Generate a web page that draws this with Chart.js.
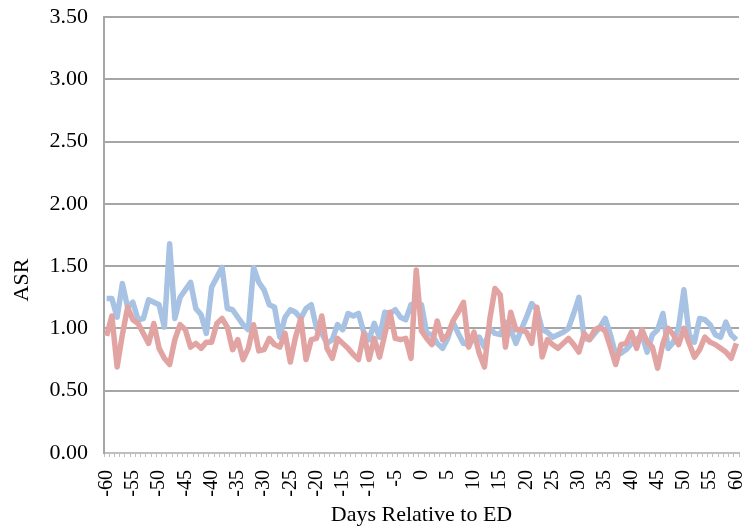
<!DOCTYPE html>
<html>
<head>
<meta charset="utf-8">
<script src="https://cdn.jsdelivr.net/npm/chart.js@4"></script>
<style>
  html, body { margin: 0; padding: 0; background: #fff; }
  #wrap { width: 746px; height: 528px; }
</style>
</head>
<body>
<div id="wrap"><canvas id="asrChart"></canvas></div>
<script>
// days -60 .. 60
const days = [];
for (let d = -60; d <= 60; d++) days.push(d);

// ASR, blue series
const asrBlue = [
  1.24, 1.24, 1.09, 1.36, 1.17, 1.21, 1.07, 1.08, 1.23, 1.21,
  1.19, 1.01, 1.68, 1.08, 1.25, 1.31, 1.37, 1.16, 1.11, 0.96,
  1.33, 1.41, 1.49, 1.16, 1.15, 1.09, 1.03, 0.99, 1.49, 1.37,
  1.31, 1.19, 1.17, 0.93, 1.09, 1.15, 1.13, 1.08, 1.16, 1.19,
  1.00, 0.96, 0.88, 0.91, 1.03, 0.99, 1.12, 1.10, 1.12, 0.97,
  0.91, 1.04, 0.93, 1.13, 1.12, 1.15, 1.09, 1.07, 1.19, 1.20,
  1.19, 0.96, 0.95, 0.88, 0.84, 0.92, 1.05, 0.96, 0.88, 0.87,
  0.92, 0.93, 0.85, 1.00, 0.96, 0.95, 1.05, 0.99, 0.88, 0.99,
  1.09, 1.20, 1.15, 0.99, 0.97, 0.93, 0.95, 0.97, 1.00, 1.12,
  1.25, 0.92, 0.91, 0.96, 1.01, 1.08, 0.95, 0.79, 0.80, 0.83,
  0.88, 0.91, 0.95, 0.81, 0.95, 0.99, 1.12, 0.84, 0.89, 1.01,
  1.31, 0.95, 0.89, 1.08, 1.07, 1.03, 0.95, 0.93, 1.05, 0.95,
  0.91
];

// ASR, red series
const asrRed = [
  0.94, 1.10, 0.69, 0.95, 1.17, 1.07, 1.04, 0.96, 0.88, 1.04,
  0.84, 0.76, 0.71, 0.91, 1.03, 0.99, 0.85, 0.88, 0.84, 0.89,
  0.89, 1.04, 1.08, 1.01, 0.83, 0.91, 0.75, 0.84, 1.03, 0.82,
  0.83, 0.92, 0.87, 0.85, 0.96, 0.73, 0.93, 1.08, 0.75, 0.91,
  0.92, 1.10, 0.84, 0.76, 0.92, 0.88, 0.84, 0.79, 0.75, 0.96,
  0.75, 0.92, 0.77, 0.95, 1.13, 0.92, 0.91, 0.92, 0.76, 1.47,
  0.98, 0.92, 0.87, 1.06, 0.91, 0.95, 1.06, 1.13, 1.21, 0.85,
  0.97, 0.80, 0.69, 1.07, 1.32, 1.27, 0.85, 1.13, 0.99, 0.99,
  0.97, 0.88, 1.17, 0.77, 0.91, 0.87, 0.84, 0.88, 0.92, 0.87,
  0.81, 0.96, 0.91, 0.99, 1.01, 0.98, 0.85, 0.71, 0.87, 0.88,
  0.97, 0.84, 0.99, 0.89, 0.85, 0.68, 0.88, 1.00, 0.95, 0.87,
  1.00, 0.88, 0.77, 0.83, 0.93, 0.89, 0.87, 0.84, 0.81, 0.76,
  0.88
];

const yTicks = [0, 0.5, 1, 1.5, 2, 2.5, 3, 3.5];

const serif = "'Liberation Serif', 'Times New Roman', serif";

// y title sits lower than the plot centre in the original, so draw it here
const asrTitle = {
  id: "asrTitle",
  afterDraw(chart) {
    const c = chart.ctx;
    c.save();
    c.translate(22, 280);
    c.rotate(-Math.PI / 2);
    c.fillStyle = "#000";
    c.font = "22px " + serif;
    c.textAlign = "center";
    c.textBaseline = "middle";
    c.fillText("ASR", 0, 0);
    c.restore();
  }
};

const ctx = document.getElementById("asrChart").getContext("2d");
new Chart(ctx, {
  type: "line",
  data: {
    labels: days,
    datasets: [
      {
        label: "blue",
        data: asrBlue,
        borderColor: "#a7c2e2",
        borderWidth: 5.5,
        pointRadius: 0,
        tension: 0,
        borderJoinStyle: "round",
        order: 1
      },
      {
        label: "red",
        data: asrRed,
        borderColor: "#e2a4a3",
        borderWidth: 5.5,
        pointRadius: 0,
        tension: 0,
        borderJoinStyle: "round",
        order: 0
      }
    ]
  },
  options: {
    responsive: true,
    maintainAspectRatio: false,
    animation: false,
    layout: { padding: { top: 17, right: 7, left: 0, bottom: 0 } },
    plugins: {
      legend: { display: false },
      tooltip: { enabled: false }
    },
    scales: {
      x: {
        type: "category",
        offset: true,
        afterFit: (scale) => {
          scale.height = 75;
          scale.paddingLeft = 0;
          scale.paddingRight = 0;
        },
        grid: {
          offset: true,
          drawOnChartArea: false,
          drawTicks: true,
          tickLength: 4,
          color: "#bfbfbf",
          lineWidth: 1
        },
        border: { display: true, color: "#bfbfbf", width: 2 },
        ticks: {
          autoSkip: false,
          minRotation: 90,
          maxRotation: 90,
          padding: 13,
          color: "#000",
          font: { family: serif, size: 20 },
          callback: function (val, i) {
            const d = days[i];
            return d % 5 === 0 ? String(d) : "";
          }
        },
        title: {
          display: true,
          text: "Days Relative to ED",
          color: "#000",
          font: { family: serif, size: 22 },
          padding: { top: 0, bottom: 0 }
        }
      },
      y: {
        min: 0,
        max: 3.5,
        afterFit: (scale) => {
          scale.width = 104;
          scale.paddingTop = 0;
          scale.paddingBottom = 0;
        },
        afterBuildTicks: (scale) => {
          scale.ticks = yTicks.map(v => ({ value: v }));
        },
        grid: {
          color: "#a6a6a6",
          lineWidth: 2,
          drawTicks: false
        },
        border: { display: true, color: "#a6a6a6", width: 2 },
        ticks: {
          padding: 16,
          color: "#000",
          font: { family: serif, size: 22 },
          callback: (v) => Number(v).toFixed(2)
        }
      }
    }
  },
  plugins: [asrTitle]
});
</script>
</body>
</html>
